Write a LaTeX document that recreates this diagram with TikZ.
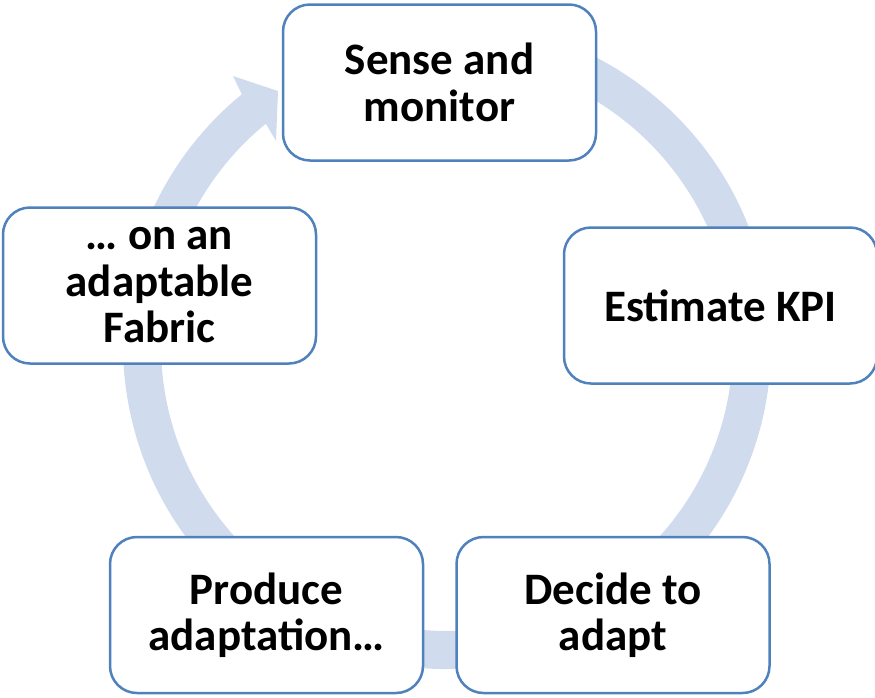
\documentclass[tikz,border=0pt]{standalone}
\usepackage{fontspec}
\setmainfont{Carlito}
\usetikzlibrary{calc}
\definecolor{boxblue}{RGB}{79,129,189}
\definecolor{ringblue}{RGB}{208,220,238}
\tikzset{
  stage/.style={draw=boxblue, line width=2.5pt, fill=white,
    rounded corners=27pt, minimum width=313pt, minimum height=156pt,
    inner sep=0pt, align=center,
    font=\fontsize{45}{46.5}\selectfont\bfseries},
  ring/.style={fill=ringblue, draw=none}
}
\begin{document}
\begin{tikzpicture}[x=1pt, y=1pt]
  \useasboundingbox (0,0) rectangle (875,-697);
  % circular arrow running clockwise behind the stages
  \coordinate (c) at (447,-345);
  \fill[ring] ($(c)+(100:324pt)$)
      arc[start angle=100, end angle=-230.7, radius=324pt]
      -- (233,-76) -- (278,-91) -- (276,-141)
      -- ($(c)+(129.3:286pt)$)
      arc[start angle=-230.7, end angle=100, radius=286pt]
      -- cycle;
  % stages of the cycle
  \node[stage] (sense)   at (439.5,-82.5) {Sense and\\monitor};
  \node[stage] (kpi)     at (720.5,-305.5) {Estimate KPI};
  \node[stage] (decide)  at (613,-615) {Decide to\\adapt};
  \node[stage] (produce) at (266.5,-615) {Produce\\adaptation…};
  \node[stage] (fabric)  at (159.5,-285.5) {… on an\\adaptable\\Fabric};
\end{tikzpicture}
\end{document}
